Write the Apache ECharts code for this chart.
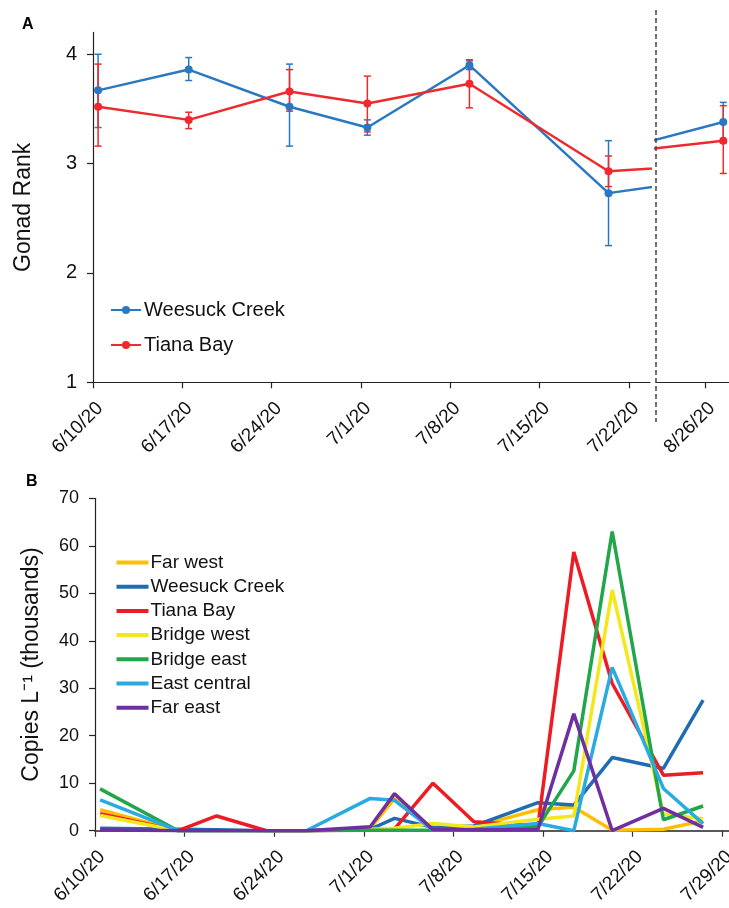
<!DOCTYPE html>
<html><head><meta charset="utf-8">
<script src="https://cdn.jsdelivr.net/npm/echarts@6/dist/echarts.min.js"></script>
<style>html,body{margin:0;padding:0;background:#fff}#c{width:729px;height:908px}</style>
</head><body><div id="c"></div>
<script>
// ---------- Panel A : gonad rank (x = days after 6/10/20) ----------
const daysA        = [0.4, 7.5, 15.4, 21.5, 29.5, 40.4, 79.65];
const weesuckRank  = [3.67, 3.86, 3.52, 3.33, 3.90, 2.73, 3.38];
const weesuckHigh  = [4.00, 3.97, 3.91, 3.40, 3.94, 3.21, 3.56];
const weesuckLow   = [3.33, 3.76, 3.16, 3.26, 3.86, 2.25, 3.19];
const tianaRank    = [3.52, 3.40, 3.66, 3.55, 3.73, 2.93, 3.21];
const tianaHigh    = [3.91, 3.47, 3.86, 3.80, 3.95, 3.07, 3.53];
const tianaLow     = [3.16, 3.32, 3.48, 3.29, 3.51, 2.79, 2.91];
const tickDaysA    = [0, 7, 14, 21, 28, 35, 42];
const tickLabelsA  = ['6/10/20','6/17/20','6/24/20','7/1/20','7/8/20','7/15/20','7/22/20'];
const tickDaysA2   = [77];
const tickLabelsA2 = ['8/26/20'];
const rankTicks    = [1, 2, 3, 4];

// ---------- Panel B : copies per litre (thousands) ----------
const daysB       = [0.4, 6.5, 9.5, 13.4, 16.5, 21.5, 23.4, 26.4, 29.6, 34.6, 37.4, 40.4, 44.4, 47.5];
const farWest     = [4.4, 0, 0, 0, 0, 0.5, 6.8, 0.5, 0.8, 4.4, 5.0, 0.1, 0.3, 2.1];
const weesuckB    = [0.5, 0.3, 0.2, 0, 0, 0.3, 2.6, 0.7, 1.0, 5.9, 5.4, 15.4, 13.1, 27.5];
const tianaB      = [3.6, 0, 3.1, 0, 0, 0.2, 0.4, 10.0, 1.9, 1.0, 58.7, 31.0, 11.7, 12.2];
const bridgeWest  = [3.2, 0, 0, 0, 0, 0.3, 0.5, 1.5, 0.8, 2.4, 3.1, 50.7, 3.5, 2.5];
const bridgeEast  = [8.8, 0, 0, 0, 0, 0.1, 0.1, 0.1, 0.2, 0.8, 12.6, 63.0, 2.3, 5.2];
const eastCentral = [6.5, 0, 0, 0, 0, 6.8, 6.4, 0.1, 0.3, 1.5, 0, 34.4, 8.9, 1.5];
const farEast     = [0.2, 0, 0, 0, 0, 0.85, 7.8, 0.2, 0.2, 0.3, 24.6, 0, 4.7, 0.7];
const siteNames   = ['Far west','Weesuck Creek','Tiana Bay','Bridge west','Bridge east','East central','Far east'];
const tickDaysB   = [0, 7, 14, 21, 28, 35, 42, 49];
const tickLabelsB = ['6/10/20','6/17/20','6/24/20','7/1/20','7/8/20','7/15/20','7/22/20','7/29/20'];
const copyTicks   = [0, 10, 20, 30, 40, 50, 60, 70];

// ---------- styles ----------
const FONT = '"Liberation Sans", Arial, sans-serif';
const blueA = '#2a78c2', redA = '#ee2a2e';
const siteColors = ['#ffbf00','#1f6cb4','#ed1c24','#f2e81a','#21a649','#29abe2','#6e2fa0'];
const leftMax = 43.65, rightMin = 69.9, rightMax = 80.48;

const zip = (xs, ys) => xs.map((x, i) => [x, ys[i]]);
const fmt = (days, labels) => v => { const i = days.indexOf(Math.round(v)); return i >= 0 ? labels[i] : ''; };

function errData(lo, hi, keep) {
  return daysA.map((d, i) => [d, lo[i], hi[i]]).filter(p => keep(p[0]));
}
function errSeries(color, lo, hi, xi, keep) {
  return {
    type: 'custom', xAxisIndex: xi, yAxisIndex: xi, z: 1, silent: true,
    encode: { x: 0, y: [1, 2] },
    data: errData(lo, hi, keep),
    renderItem(params, api) {
      const x = api.value(0);
      const a = api.coord([x, api.value(2)]), b = api.coord([x, api.value(1)]);
      const w = 3.5, st = { stroke: color, lineWidth: 1.5 };
      return { type: 'group', children: [
        { type: 'line', shape: { x1: a[0], y1: a[1], x2: b[0], y2: b[1] }, style: st },
        { type: 'line', shape: { x1: a[0]-w, y1: a[1], x2: a[0]+w, y2: a[1] }, style: st },
        { type: 'line', shape: { x1: b[0]-w, y1: b[1], x2: b[0]+w, y2: b[1] }, style: st }
      ]};
    }
  };
}
function lineA(name, color, vals, xi) {
  return {
    type: 'line', name, xAxisIndex: xi, yAxisIndex: xi, z: 3, clip: true,
    data: zip(daysA, vals), color,
    symbol: 'circle', symbolSize: 8,
    lineStyle: { width: 2.5, color }, itemStyle: { color }
  };
}

const axisLineDark = { show: true, lineStyle: { color: '#222', width: 1.2 } };
const tickDark = { show: true, length: 6, lineStyle: { color: '#222', width: 1.2 } };

const xA = (min, max, days, labels) => ({
  type: 'value', min, max, splitLine: { show: false },
  axisLine: axisLineDark,
  axisTick: Object.assign({ customValues: days }, tickDark),
  axisLabel: { customValues: days, formatter: fmt(days, labels), rotate: 45, margin: 16,
               verticalAlign: 'top', lineHeight: 20,
               fontSize: 19, color: '#111', fontFamily: FONT }
});

const option = {
  animation: false,
  backgroundColor: '#fff',
  textStyle: { fontFamily: FONT },
  title: [
    { text: 'A', left: 17, top: 12, textStyle: { fontSize: 16, fontWeight: 'bold', color: '#000', fontFamily: FONT } },
    { text: 'B', left: 21, top: 469, textStyle: { fontSize: 16, fontWeight: 'bold', color: '#000', fontFamily: FONT } }
  ],
  grid: [
    { left: 93, right: 79, top: 32.4, bottom: 525.7, outerBoundsMode: 'none' },
    { left: 656, right: 0, top: 32.4, bottom: 525.7, outerBoundsMode: 'none' },
    { left: 95, right: 0.3, top: 498.3, bottom: 77.3, outerBoundsMode: 'none' }
  ],
  xAxis: [
    Object.assign({ gridIndex: 0 }, xA(0, leftMax, tickDaysA, tickLabelsA)),
    Object.assign({ gridIndex: 1 }, xA(rightMin, rightMax, tickDaysA2, tickLabelsA2)),
    Object.assign({ gridIndex: 2 }, xA(0, 49.5, tickDaysB, tickLabelsB),
      { axisLine: { show: true, lineStyle: { color: '#595959', width: 2 } },
        axisTick: { show: true, customValues: tickDaysB, length: 6, lineStyle: { color: '#333', width: 1.2 } } })
  ],
  yAxis: [
    { gridIndex: 0, type: 'value', min: 1, max: 4.2, splitLine: { show: false },
      axisLine: axisLineDark,
      axisTick: Object.assign({ customValues: rankTicks }, tickDark),
      axisLabel: { customValues: rankTicks, fontSize: 20, color: '#111', margin: 16, fontFamily: FONT },
      name: 'Gonad Rank', nameLocation: 'middle', nameGap: 58,
      nameTextStyle: { fontSize: 23, color: '#111', fontFamily: FONT } },
    { gridIndex: 1, type: 'value', min: 1, max: 4.2, show: false },
    { gridIndex: 2, type: 'value', min: 0, max: 70, interval: 10, splitLine: { show: false },
      axisLine: axisLineDark,
      axisTick: Object.assign({ customValues: copyTicks }, tickDark),
      axisLabel: { fontSize: 18, color: '#111', margin: 16, fontFamily: FONT },
      name: 'Copies L⁻¹ (thousands)', nameLocation: 'middle', nameGap: 52,
      nameTextStyle: { fontSize: 23, color: '#111', fontFamily: FONT } }
  ],
  legend: [
    { orient: 'vertical', left: 110, top: 299, padding: 0, itemWidth: 30, itemHeight: 10, itemGap: 13,
      data: ['Weesuck Creek', 'Tiana Bay'],
      textStyle: { fontSize: 20, lineHeight: 22, color: '#111', fontFamily: FONT, padding: [0,0,0,-2] } },
    { orient: 'vertical', left: 116.5, top: 552.5, padding: 0, itemWidth: 32, itemHeight: 4, itemGap: 4.2,
      icon: 'rect',
      data: siteNames.map(n => 'B ' + n),
      formatter: n => n.slice(2),
      textStyle: { fontSize: 19, lineHeight: 20, color: '#111', fontFamily: FONT, padding: [0,0,0,-3] } }
  ],
  series: [
    errSeries(blueA, weesuckLow, weesuckHigh, 0, d => d <= leftMax),
    errSeries(redA, tianaLow, tianaHigh, 0, d => d <= leftMax),
    errSeries(blueA, weesuckLow, weesuckHigh, 1, d => d >= rightMin),
    errSeries(redA, tianaLow, tianaHigh, 1, d => d >= rightMin),
    lineA('Weesuck Creek', blueA, weesuckRank, 0),
    lineA('Tiana Bay', redA, tianaRank, 0),
    lineA('Weesuck Creek', blueA, weesuckRank, 1),
    lineA('Tiana Bay', redA, tianaRank, 1)
  ].concat([farWest, weesuckB, tianaB, bridgeWest, bridgeEast, eastCentral, farEast].map((vals, i) => ({
    type: 'line', name: 'B ' + siteNames[i], xAxisIndex: 2, yAxisIndex: 2,
    data: zip(daysB, vals), color: siteColors[i], symbol: 'none',
    lineStyle: { width: 3.5, color: siteColors[i] }, z: 2 + i
  })))
};

const chart = echarts.init(document.getElementById('c'), null, { renderer: 'canvas' });
chart.setOption(option);
const bx = chart.convertToPixel({ xAxisIndex: 1 }, rightMin);
chart.setOption({ graphic: [{
  type: 'line', silent: true, z: 100,
  shape: { x1: bx, y1: 10, x2: bx, y2: 422 },
  style: { stroke: '#444', lineWidth: 1.5, lineDash: [5, 3] }
}]});
</script></body></html>
